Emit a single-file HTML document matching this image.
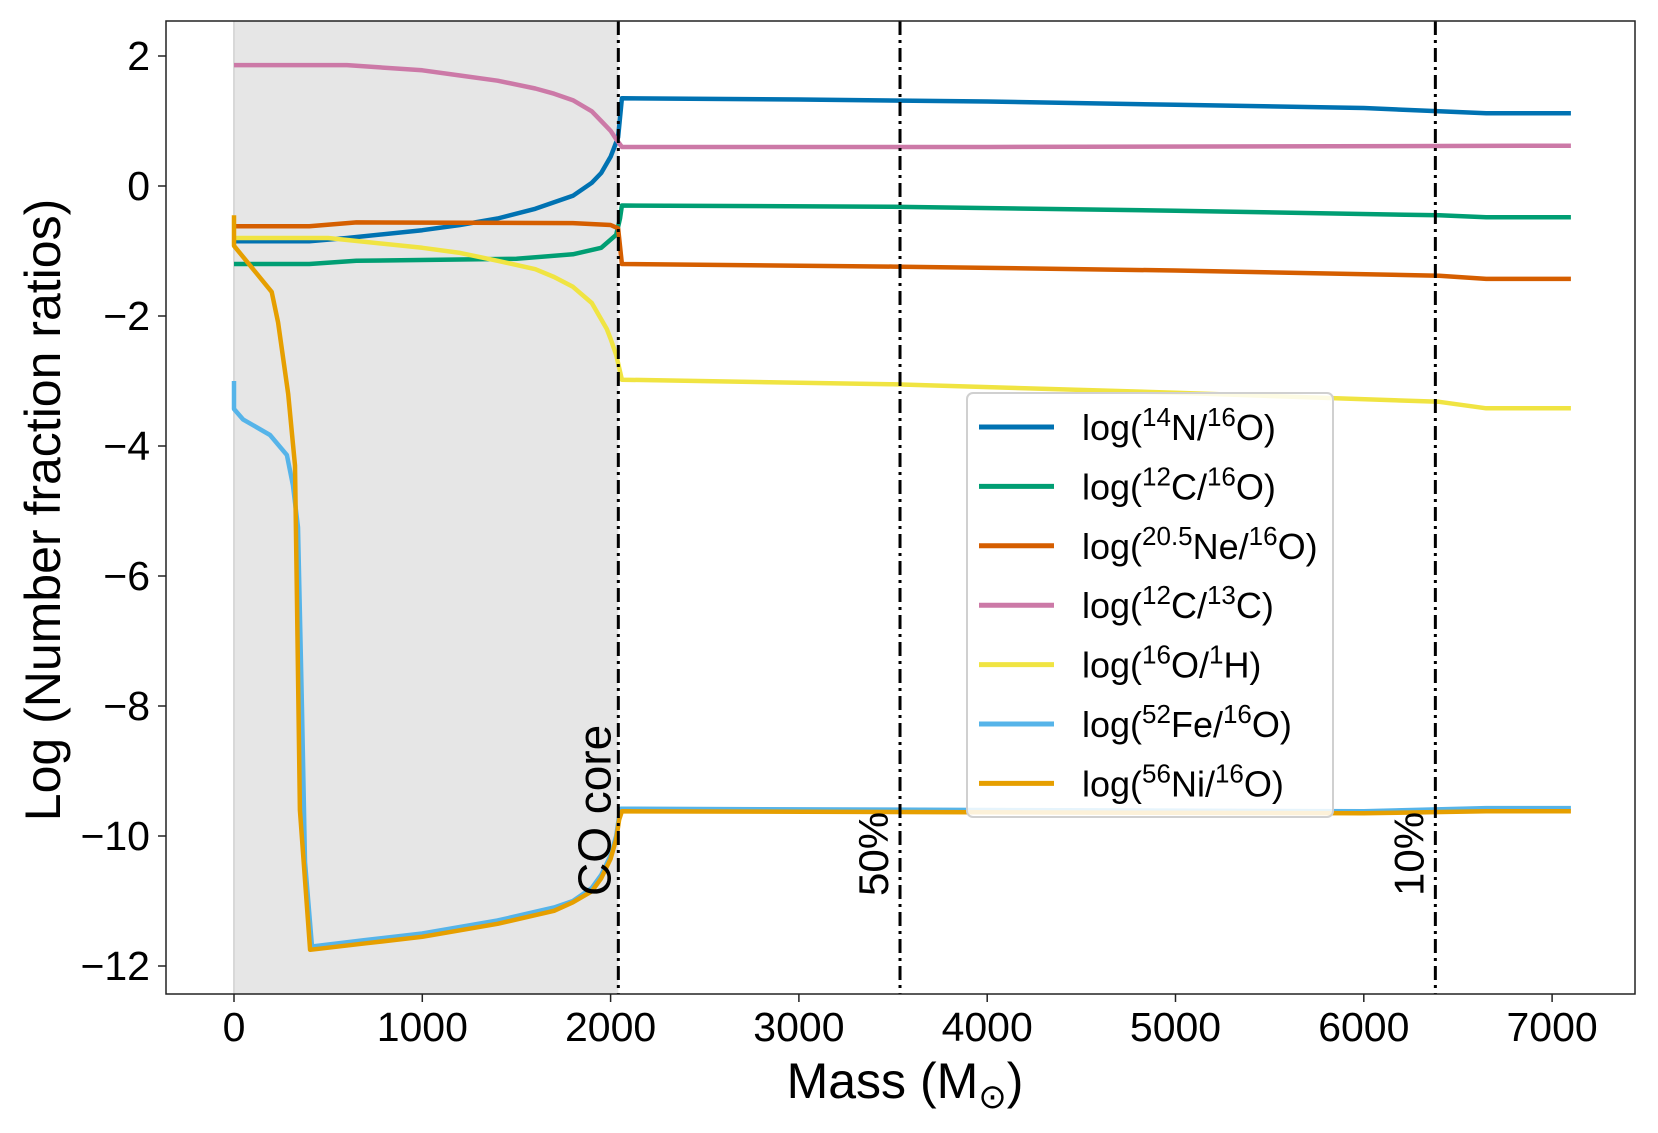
<!DOCTYPE html>
<html><head><meta charset="utf-8"><style>
html,body{margin:0;padding:0;background:#fff;}
svg{display:block;font-family:"Liberation Sans",sans-serif;}
</style></head><body>
<svg id="chart" width="1658" height="1133" viewBox="0 0 1658 1133" xmlns="http://www.w3.org/2000/svg">
<rect x="0" y="0" width="1658" height="1133" fill="#fff"/>
<g id="plot"></g>
</svg>
<script>
const massN14 = [0,400,600,1000,1200,1400,1600,1700,1800,1900,1950,2000,2020,2040,2060,3000,4000,5000,6000,6400,6650,7100];
const valN14  = [-0.85,-0.85,-0.8,-0.68,-0.6,-0.5,-0.35,-0.25,-0.15,0.05,0.2,0.45,0.6,0.75,1.35,1.33,1.3,1.25,1.2,1.15,1.12,1.12];
const massC12 = [0,400,650,1500,1800,1950,2030,2050,2060,3500,5000,6400,6650,7100];
const valC12  = [-1.2,-1.2,-1.15,-1.12,-1.05,-0.95,-0.75,-0.5,-0.3,-0.32,-0.38,-0.45,-0.48,-0.48];
const massNe  = [0,400,650,1800,2000,2040,2060,3500,5000,6400,6650,7100];
const valNe   = [-0.62,-0.62,-0.56,-0.57,-0.6,-0.65,-1.2,-1.24,-1.3,-1.38,-1.43,-1.43];
const massC13 = [0,600,1000,1200,1400,1600,1700,1800,1900,1950,2000,2030,2060,4000,7100];
const valC13  = [1.86,1.86,1.78,1.7,1.62,1.5,1.42,1.32,1.15,1.0,0.85,0.72,0.6,0.6,0.62];
const massH   = [0,500,1000,1200,1400,1600,1700,1800,1900,1980,2000,2030,2060,3500,5000,6400,6650,7100];
const valH    = [-0.8,-0.8,-0.95,-1.03,-1.15,-1.28,-1.4,-1.55,-1.8,-2.2,-2.35,-2.6,-2.98,-3.05,-3.18,-3.32,-3.42,-3.42];
const massFe  = [0,0,48,191,281,313,340,361,377,414,700,1000,1400,1700,1800,1900,1950,2000,2030,2045,2055,6000,6650,7100];
const valFe   = [-3.0,-3.43,-3.59,-3.83,-4.14,-4.6,-5.25,-8.06,-10.4,-11.7,-11.6,-11.5,-11.3,-11.1,-11.0,-10.8,-10.6,-10.3,-10.0,-9.7,-9.58,-9.62,-9.57,-9.57];
const massNi  = [0,0,200,234,288,324,334,350,404,700,1000,1400,1700,1800,1900,1950,2000,2030,2045,2060,6000,6650,7100];
const valNi   = [-0.45,-0.92,-1.63,-2.1,-3.2,-4.3,-6.3,-9.6,-11.75,-11.65,-11.55,-11.35,-11.15,-11.02,-10.85,-10.65,-10.35,-10.05,-9.75,-9.62,-9.65,-9.62,-9.62];
const xTicks = [0,1000,2000,3000,4000,5000,6000,7000];
const yTicks = [2,0,-2,-4,-6,-8,-10,-12];
const vlineMass = [2041,3537,6380];
const vlineLabels = ["CO core","50%","10%"];
const coreEnd = 2041;

const NS="http://www.w3.org/2000/svg";
const L=166,T=21,R=1635,B=994;
function X(m){return 234+m*0.1883;}
function Y(v){return 186-v*65;}
const g=document.getElementById('plot');
function el(tag,attrs,parent){const e=document.createElementNS(NS,tag);for(const k in attrs)e.setAttribute(k,attrs[k]);(parent||g).appendChild(e);return e;}

const sh=el('rect',{x:X(0),y:T,width:X(coreEnd)-X(0),height:B-T,fill:'#e6e6e6'});


const sl=el('line',{x1:X(0),y1:T,x2:X(0),y2:B,stroke:'#d8d8d8','stroke-width':2});



const series=[
 ['n14-o16',massN14,valN14,'#0072b2'],
 ['c12-o16',massC12,valC12,'#009e73'],
 ['ne-o16',massNe,valNe,'#d55e00'],
 ['c12-c13',massC13,valC13,'#cc79a7'],
 ['o16-h1',massH,valH,'#f0e442'],
 ['fe52-o16',massFe,valFe,'#56b4e9'],
 ['ni56-o16',massNi,valNi,'#e69f00']
];
series.forEach(s=>{
 const d=s[1].map((m,i)=>(i?'L':'M')+X(m).toFixed(1)+','+Y(s[2][i]).toFixed(1)).join(' ');
 const p=el('path',{d:d,fill:'none',stroke:s[3],'stroke-width':4.5,'stroke-linejoin':'round'});
 
 
});

vlineMass.forEach((m,i)=>{
 const ln=el('line',{x1:X(m),y1:T,x2:X(m),y2:B,stroke:'#000','stroke-width':3,'stroke-dasharray':'14,5,3,5'});
 
 
 const tx=X(m)-(i===0?8:12);
 const t=el('text',{x:0,y:0,transform:'translate('+tx+',896) rotate(-90)','font-size':i===0?46:42,fill:'#000'});
 t.textContent=vlineLabels[i];
 
 
});

const fr=el('rect',{x:L,y:T,width:R-L,height:B-T,fill:'none',stroke:'#222','stroke-width':1.5});



xTicks.forEach(v=>{
 const tk=el('line',{x1:X(v),y1:B,x2:X(v),y2:B+8,stroke:'#222','stroke-width':1.5});
 
 
 const t=el('text',{x:X(v),y:1041,'font-size':41,'text-anchor':'middle',fill:'#000'});
 t.textContent=v;
 
 
});
yTicks.forEach(v=>{
 const tk=el('line',{x1:L-8,y1:Y(v),x2:L,y2:Y(v),stroke:'#222','stroke-width':1.5});
 
 
 const t=el('text',{x:150,y:Y(v)+14,'font-size':41,'text-anchor':'end',fill:'#000'});
 t.textContent=v<0?'\u2212'+(-v):String(v);
 
 
});

const xl=el('text',{x:905,y:1098,'font-size':50,'text-anchor':'middle',fill:'#000'});
xl.innerHTML='Mass (M<tspan font-size="34" dy="10">\u2299</tspan><tspan dy="-10">)</tspan>';


const yl=el('text',{x:0,y:0,transform:'translate(60,510) rotate(-90)','font-size':50,'text-anchor':'middle',fill:'#000'});
yl.textContent='Log (Number fraction ratios)';



const lg=el('g',{});


const lb=el('rect',{x:967,y:393,width:366,height:424,rx:6,fill:'rgba(255,255,255,0.85)',stroke:'#d0d0d0','stroke-width':2},lg);


const labels=[
 [['14','N/'],['16','O)']],
 [['12','C/'],['16','O)']],
 [['20.5','Ne/'],['16','O)']],
 [['12','C/'],['13','C)']],
 [['16','O/'],['1','H)']],
 [['52','Fe/'],['16','O)']],
 [['56','Ni/'],['16','O)']]
];
series.forEach((s,i)=>{
 const y=427+i*59.4;
 const ln=el('line',{x1:979,y1:y,x2:1054,y2:y,stroke:s[3],'stroke-width':5},lg);
 
 
 const t=el('text',{x:1082,y:y+13,'font-size':36,fill:'#000'},lg);
 let h='log(';
 labels[i].forEach(p=>{h+='<tspan font-size="26" dy="-14">'+p[0]+'</tspan><tspan dy="14">'+p[1]+'</tspan>';});
 t.innerHTML=h;
 
 
});
</script>
</body></html>
